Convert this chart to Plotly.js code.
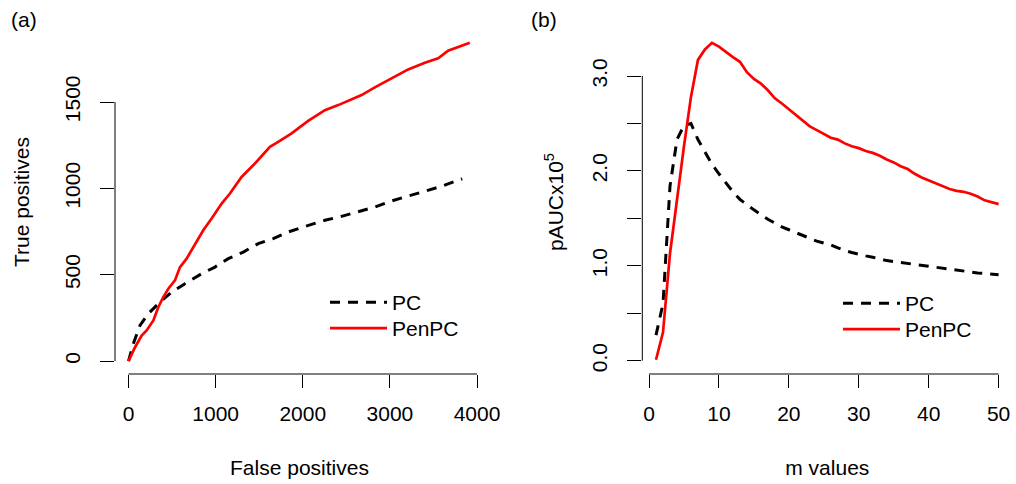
<!DOCTYPE html>
<html>
<head>
<meta charset="utf-8">
<script src="https://cdn.plot.ly/plotly-3.0.1.min.js"></script>
<style>html,body{margin:0;padding:0;background:#fff;}#chart{width:1016px;height:484px;}</style>
</head>
<body>
<div id="chart"></div>
<script>
// Panel (a): ROC-type curves (false positives vs true positives)
const fpPenPC = [0, 75, 151, 208, 285, 342, 399, 457, 533, 591, 667, 763, 858, 954, 1069, 1164, 1298, 1451, 1623, 1718, 1872, 2062, 2254, 2407, 2521, 2675, 2827, 2942, 3019, 3210, 3401, 3554, 3668, 3783, 3917];
const tpPenPC = [0, 80, 148, 177, 235, 312, 370, 419, 467, 544, 593, 680, 757, 825, 912, 970, 1066, 1144, 1240, 1269, 1318, 1391, 1453, 1482, 1505, 1540, 1585, 1617, 1640, 1689, 1727, 1753, 1797, 1820, 1843];
const fpPC = [0, 55, 132, 227, 361, 495, 648, 840, 992, 1145, 1317, 1489, 1661, 1833, 2005, 2254, 2445, 2636, 2827, 3019, 3210, 3401, 3593, 3783, 3830];
const tpPC = [0, 100, 206, 274, 341, 399, 448, 506, 544, 593, 631, 680, 709, 747, 776, 815, 838, 863, 892, 927, 954, 985, 1012, 1047, 1055];

// Panel (b): pAUC x 10^5 against m
const mValues = [1,2,3,4,5,6,7,8,9,10,11,12,13,14,15,16,17,18,19,20,21,22,23,24,25,26,27,28,29,30,31,32,33,34,35,36,37,38,39,40,41,42,43,44,45,46,47,48,49,50];
const pAucPC = [0.27,0.60,1.84,2.33,2.48,2.50,2.33,2.20,2.07,1.97,1.87,1.78,1.70,1.64,1.59,1.54,1.49,1.45,1.41,1.38,1.35,1.32,1.29,1.26,1.24,1.22,1.19,1.16,1.14,1.12,1.105,1.09,1.07,1.055,1.045,1.035,1.025,1.015,1.005,0.995,0.985,0.975,0.96,0.95,0.94,0.93,0.925,0.92,0.91,0.905];
const pAucPenPC = [0.01,0.30,1.13,1.72,2.26,2.78,3.17,3.28,3.35,3.31,3.25,3.20,3.15,3.04,2.97,2.92,2.85,2.765,2.71,2.65,2.60,2.54,2.47,2.43,2.39,2.35,2.33,2.29,2.26,2.24,2.21,2.19,2.16,2.12,2.09,2.05,2.02,1.97,1.93,1.90,1.87,1.84,1.81,1.79,1.78,1.76,1.73,1.69,1.67,1.65];

const xTicksA = [0, 1000, 2000, 3000, 4000];
const yTicksA = [0, 500, 1000, 1500];
const xTicksB = [0, 10, 20, 30, 40, 50];

const FONT = 'Liberation Sans, Arial, Helvetica, sans-serif';
const FS = 21;
const dashStyle = '10px,8px';

const traces = [
  {x: fpPC, y: tpPC, xaxis: 'x', yaxis: 'y', type: 'scatter', mode: 'lines', name: 'PC',
   line: {color: 'black', width: 3, dash: dashStyle}, legend: 'legend'},
  {x: fpPenPC, y: tpPenPC, xaxis: 'x', yaxis: 'y', type: 'scatter', mode: 'lines', name: 'PenPC',
   line: {color: 'red', width: 2.7}, legend: 'legend2'},
  {x: mValues, y: pAucPC, xaxis: 'x2', yaxis: 'y2', type: 'scatter', mode: 'lines', name: 'PC',
   line: {color: 'black', width: 3, dash: dashStyle}, legend: 'legend3'},
  {x: mValues, y: pAucPenPC, xaxis: 'x2', yaxis: 'y2', type: 'scatter', mode: 'lines', name: 'PenPC',
   line: {color: 'red', width: 2.7}, legend: 'legend4'}
];

const W = 1016, H = 484;
const yDom = [(H - 374) / H, (H - 30) / H];

const axisCommon = {
  showgrid: false, zeroline: false, showline: false,
  ticks: 'outside', tickcolor: 'black', tickwidth: 1,
  tickfont: {family: FONT, size: FS, color: 'black'}
};
const titleFont = {family: FONT, size: FS, color: 'black'};

function legendAt(xPx, topPx) {
  return {x: xPx / W, y: (H - topPx) / H, xanchor: 'left', yanchor: 'top', bgcolor: 'rgba(0,0,0,0)',
    borderwidth: 0, itemwidth: 57, font: {family: FONT, size: FS, color: 'black'}};
}

const layout = {
  width: W, height: H, autosize: false,
  margin: {l: 0, r: 0, t: 0, b: 0, pad: 0},
  paper_bgcolor: 'white', plot_bgcolor: 'white',
  font: {family: FONT, size: FS, color: 'black'},
  xaxis: Object.assign({}, axisCommon, {
    domain: [115 / W, 484 / W], range: [-155, 4080], anchor: 'y',
    tickvals: xTicksA, ticktext: xTicksA.map(String), ticklen: 13, ticklabelstandoff: 8,
    title: {text: 'False positives', font: titleFont, standoff: 36}
  }),
  yaxis: Object.assign({}, axisCommon, {
    domain: yDom, range: [-75, 1917], anchor: 'x',
    tickvals: yTicksA, ticktext: yTicksA.map(String), ticklen: 14, tickangle: -90, ticklabelstandoff: 12,
    title: {text: 'True positives', font: titleFont, standoff: 25}
  }),
  xaxis2: Object.assign({}, axisCommon, {
    domain: [642.3 / W, 1012.3 / W], range: [-0.96, 51.96], anchor: 'y2',
    tickvals: xTicksB, ticktext: xTicksB.map(String), ticklen: 13, ticklabelstandoff: 8,
    title: {text: 'm values', font: titleFont, standoff: 36}
  }),
  yaxis2: Object.assign({}, axisCommon, {
    domain: yDom, range: [-0.14, 3.485], anchor: 'x2',
    tickmode: 'linear', tick0: 0, dtick: 1, tickformat: '.1f',
    ticklen: 14, tickangle: -90, ticklabelstandoff: 12,
    minor: {tick0: 0, dtick: 0.5, ticks: 'outside', ticklen: 14, tickcolor: 'black', tickwidth: 1, showgrid: false},
    title: {text: 'pAUCx10<sup>5</sup>', font: titleFont, standoff: 18}
  }),
  shapes: [
    {type: 'line', xref: 'x', yref: 'y domain', x0: 0, x1: 4000, y0: 0, y1: 0, line: {color: 'black', width: 1}},
    {type: 'line', xref: 'x domain', yref: 'y', x0: 0, x1: 0, y0: 0, y1: 1500, line: {color: 'black', width: 1}},
    {type: 'line', xref: 'x2', yref: 'y2 domain', x0: 0, x1: 50, y0: 0, y1: 0, line: {color: 'black', width: 1}},
    {type: 'line', xref: 'x2 domain', yref: 'y2', x0: 0, x1: 0, y0: 0, y1: 3, line: {color: 'black', width: 1}}
  ],
  annotations: [
    {text: '(a)', xref: 'paper', yref: 'paper', x: 24 / W, y: (H - 19) / H, xanchor: 'center', yanchor: 'middle',
     showarrow: false, font: titleFont},
    {text: '(b)', xref: 'paper', yref: 'paper', x: 544 / W, y: (H - 19) / H, xanchor: 'center', yanchor: 'middle',
     showarrow: false, font: titleFont}
  ],
  legend: legendAt(325, 282),
  legend2: legendAt(325, 308),
  legend3: legendAt(838, 283),
  legend4: legendAt(838, 309),
  showlegend: true
};

Plotly.newPlot('chart', traces, layout, {staticPlot: true, displayModeBar: false});
</script>
</body>
</html>
